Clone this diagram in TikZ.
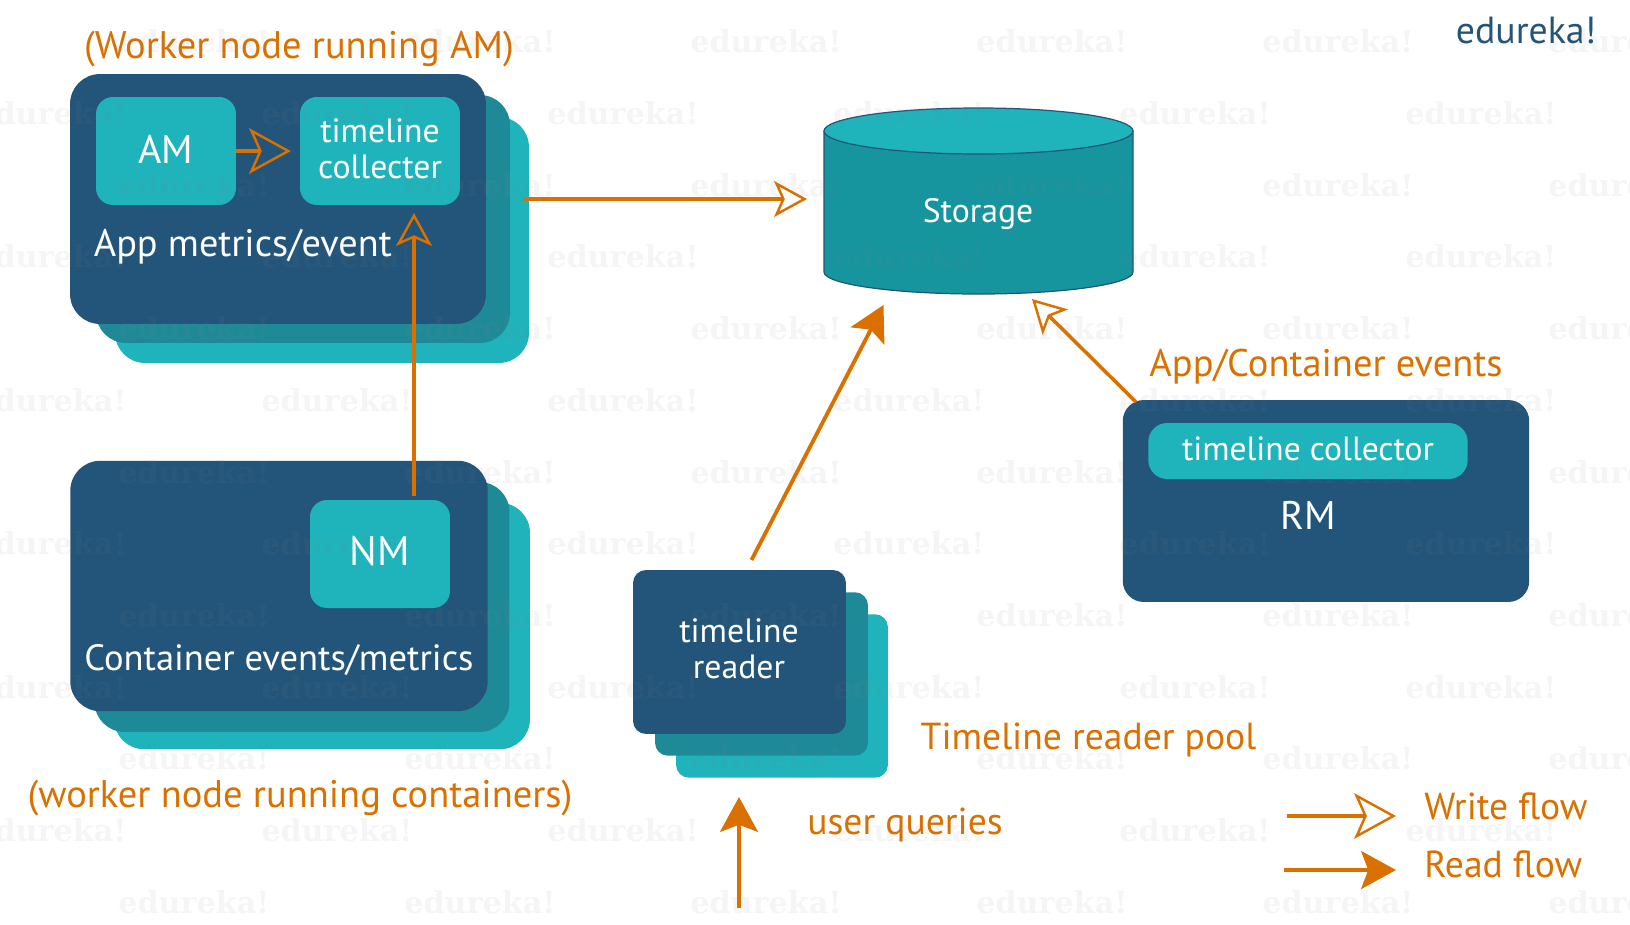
\documentclass[tikz,border=0pt]{standalone}
\usepackage{fontspec}
\usepackage{xcolor}
\setmainfont{PT Sans}
\newfontfamily\markfont{DejaVu Serif}
\usetikzlibrary{arrows.meta,positioning}
\definecolor{deepblue}{HTML}{23557B}
\definecolor{teal1}{HTML}{1FB4BB}
\definecolor{teal2}{HTML}{1F8A97}
\definecolor{teal3}{HTML}{17959F}
\definecolor{flow}{HTML}{D97000}
\newcommand{\fsize}[1]{\fontsize{#1}{20.4}\selectfont}
\tikzset{
  panel/.style={draw=none,rounded corners=0.6cm,inner sep=0pt},
  frontpanel/.style={panel,fill=deepblue},
  midpanel/.style={panel,fill=teal2},
  backpanel/.style={panel,fill=teal1},
  tile/.style={draw=none,fill=teal1,rounded corners=0.34cm,inner sep=0pt},
  whitetext/.style={text=white,align=center,font=\fsize{19.2}},
  flowtext/.style={text=flow,inner sep=0pt,font=\fsize{21.4}},
  titletext/.style={flowtext,font=\fsize{21.9}},
  watermark/.style={text=gray,text opacity=.08,inner sep=0pt,font=\markfont\bfseries\fontsize{17.2}{20}\selectfont},
  writeflow/.style={flow,line width=2pt,-{Stealth[open,length=18.7pt,width=20.4pt,inset=4.5pt,line width=1.4pt]}},
  writebig/.style={flow,line width=2.8pt,-{Stealth[open,length=23.8pt,width=26pt,inset=5.7pt,line width=1.4pt]}},
  readflow/.style={flow,line width=2.2pt,-{Stealth[length=19.8pt,width=21.5pt,inset=4pt]}}
}
\begin{document}
\begin{tikzpicture}[x=0.02cm,y=-0.02cm]
  \useasboundingbox (0,0) rectangle (1630,924);
  % worker node running AM
  \node[backpanel,minimum width=8.28cm,minimum height=4.92cm] (amBack) at (322,240) {};
  \node[midpanel,minimum width=8.28cm,minimum height=4.96cm] (amMid) at (303,219) {};
  \node[frontpanel,minimum width=8.32cm,minimum height=5cm] (amFront) at (278,199) {};
  \node[tile,minimum width=2.8cm,minimum height=2.16cm] (am) at (166,151) {};
  \node[tile,minimum width=3.2cm,minimum height=2.16cm] (collecter) at (380,151) {};
  \node[whitetext,font=\fsize{22.7}] (amText) at (166,149) {AM};
  \node[whitetext] (collecterText) at (380,149) {timeline\\collecter};
  \node[whitetext,font=\fsize{21.8},anchor=west,inner sep=0pt] (metrics) at (93.5,247) {App metrics/event};
  \node[titletext] (amTitle) at (299,49) {(Worker node running AM)};
  % worker node running containers
  \node[backpanel,minimum width=8.32cm,minimum height=4.93cm] (nmBack) at (322,626) {};
  \node[midpanel,minimum width=8.3cm,minimum height=5cm] (nmMid) at (302,607) {};
  \node[frontpanel,minimum width=8.35cm,minimum height=5.01cm] (nmFront) at (279,586) {};
  \node[tile,minimum width=2.8cm,minimum height=2.16cm] (nm) at (380,554) {};
  \node[whitetext,font=\fsize{23.4}] (nmText) at (380,551) {NM};
  \node[whitetext,font=\fsize{20.8},inner sep=0pt] (events) at (279,660) {Container events/metrics};
  \node[titletext] (nmTitle) at (300,798) {(worker node running containers)};
  % timeline reader pool
  \node[panel,fill=teal1,rounded corners=0.26cm,minimum width=4.24cm,minimum height=3.27cm] (poolBack) at (782,696) {};
  \node[panel,fill=teal2,rounded corners=0.26cm,minimum width=4.26cm,minimum height=3.27cm] (poolMid) at (761.5,674) {};
  \node[panel,fill=deepblue,rounded corners=0.26cm,minimum width=4.26cm,minimum height=3.28cm] (reader) at (739.5,652) {};
  \node[whitetext] (readerText) at (739,649) {timeline\\reader};
  \node[flowtext] (poolTitle) at (1088.5,740) {Timeline reader pool};
  \node[flowtext] (queries) at (905,825) {user queries};
  % storage
  \path[fill=teal3,draw=deepblue,line width=0.7pt] (824,131) -- (824,272)
    arc[start angle=180,end angle=0,x radius=154.5,y radius=22] -- (1133,131) -- cycle;
  \path[fill=teal1,draw=deepblue,line width=0.7pt] (978.5,131) ellipse[x radius=154.5,y radius=23];
  \node[whitetext] (storage) at (978,214) {Storage};
  % RM
  \node[panel,fill=deepblue,rounded corners=0.42cm,minimum width=8.13cm,minimum height=4.04cm] (rm) at (1326,501) {};
  \node[tile,rounded corners=0.38cm,minimum width=6.39cm,minimum height=1.12cm] (collector) at (1308,451) {};
  \node[whitetext,font=\fsize{19.1}] (collectorText) at (1308,449) {timeline collector};
  \node[whitetext,font=\fsize{22.7}] (rmText) at (1308,515) {RM};
  \node[titletext] (rmTitle) at (1326,367) {App/Container events};
  % watermark
  \foreach \row in {0,2,...,12}
    \foreach \col in {194,480,...,1624}
      \node[watermark] (mark\row\col) at (\col,{41.6+71.7*\row}) {edureka!};
  \foreach \row in {1,3,...,11}
    \foreach \col in {51,337,...,1481}
      \node[watermark] (mark\row\col) at (\col,{41.6+71.7*\row}) {edureka!};
  % free ends of the flows
  \coordinate (amOut) at (523,199);
  \coordinate (storageIn) at (807,199);
  \coordinate (nmOut) at (414,496);
  \coordinate (collecterIn) at (414,213);
  \coordinate (readerOut) at (751.5,560);
  \coordinate (storageRead) at (883.5,305);
  \coordinate (rmOut) at (1136,402);
  \coordinate (storageWrite) at (1032,299);
  \coordinate (queryIn) at (739,907.5);
  \coordinate (queryOut) at (739,797);
  \draw[writebig,shorten >=5pt] (am.east) -- (collecter.west);
  \draw[writeflow] (amOut) -- (storageIn);
  \draw[writeflow] (nmOut) -- (collecterIn);
  \draw[readflow] (readerOut) -- (storageRead);
  \draw[writeflow] (rmOut) -- (storageWrite);
  \draw[readflow] (queryIn) -- (queryOut);
  % legend
  \coordinate (writeA) at (1287,816);
  \coordinate (writeB) at (1396,816);
  \coordinate (readA) at (1284,870);
  \coordinate (readB) at (1396,870);
  \draw[writebig] (writeA) -- (writeB);
  \draw[readflow] (readA) -- (readB);
  \node[flowtext,anchor=west] (writeText) at (1424,806) {Write flow};
  \node[flowtext,anchor=west] (readText) at (1424,864) {Read flow};
  \node[text=deepblue,font=\fsize{21.5}] (logo) at (1526,30) {edureka!};
\end{tikzpicture}
\end{document}
